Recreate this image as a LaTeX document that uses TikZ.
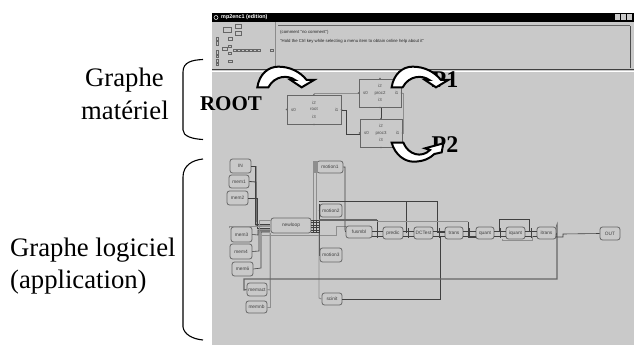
\documentclass[tikz,border=0pt]{standalone}
\usepackage{fontspec}
\setmainfont{Liberation Serif}
\newfontfamily\uifont{Liberation Sans}
\usetikzlibrary{calc}
\definecolor{panel}{HTML}{C9C9C9}
\definecolor{edge}{HTML}{666666}
\definecolor{wire}{HTML}{404040}
\definecolor{soft}{HTML}{8E8E8E}
\tikzset{
 x=1pt,y=-1pt,
 lbl/.style={font=\fontsize{26.7}{30}\selectfont,inner sep=0,anchor=base west},
 big/.style={font=\fontsize{24}{26}\selectfont\bfseries,inner sep=0,anchor=base},
 proc/.style={draw=edge,line width=1pt,fill=panel,inner sep=0},
 task/.style={draw=edge,line width=.8pt,rounded corners=2.5pt,fill=panel,inner sep=0,text=black!75,font=\uifont\fontsize{4.8}{5}\selectfont},
 wr/.style={draw=wire,line width=.6pt},
 wrs/.style={draw=soft,line width=.9pt},
 wrd/.style={draw=black!60,line width=1.2pt},
 port/.style={font=\uifont\fontsize{4.4}{5}\selectfont,text=black!70,inner sep=0},
 bent/.style={draw=black,line width=2pt,fill=white,line join=miter},
 mini/.style={draw=black!60,line width=.4pt},
 brk/.style={draw=black,line width=1.1pt},
 dot/.style={fill=black!60},
}
\newcommand{\tbox}[6]{\node[task,minimum width=#4-#3,minimum height=#6-#5] (#1) at ({(#3+#4)/2},{(#5+#6)/2}) {#2};}
\newcommand{\pbox}[6]{\node[proc,minimum width=#4-#3,minimum height=#6-#5] (#1) at ({(#3+#4)/2},{(#5+#6)/2}) {};
 \node[port] at (#1.center) {#2};
 \node[port] at ($(#1.center)+(0,-7)$) {i2};
 \node[port] at ($(#1.center)+(0,7)$) {i3};
 \node[port] at ($(#1.west)+(7,0)$) {s0};
 \node[port] at ($(#1.east)+(-5,0)$) {i1};
 \foreach \pa in {north,south,west,east}{\fill[dot] (#1.\pa) circle (.9);}
}
\begin{document}
\begin{tikzpicture}
\useasboundingbox (0,0) rectangle (634,345);
\fill[white] (0,0) rectangle (634,345);
% window
\fill[panel] (212,22) rectangle (634,345);
\fill[black] (212,13) rectangle (634,22);
\node[inner sep=0,anchor=west,text=white,font=\uifont\bfseries\fontsize{5.4}{6}\selectfont] (title) at (221,17.5) {mp2enc1 (edition)};
\draw[white,line width=.5pt] (216,17.5) circle (2);
\foreach \bx in {617,623,629}{\fill[panel] (\bx-2.5,14.5) rectangle (\bx+2.5,20.5);}
\draw[black!75,line width=1pt] (212,69.5) -- (634,69.5);
\draw[white,line width=.5pt] (212,71) -- (634,71);
\draw[black!45,line width=1pt] (275.5,22) -- (275.5,70);
\draw[black!60,line width=.5pt] (278,25) -- (630,25);
\draw[black!70,line width=.6pt] (630,26) -- (630,68);
\node[inner sep=0,anchor=west,font=\uifont\fontsize{4.3}{5}\selectfont,text=black!85] (c1) at (280,32) {(comment "no comment")};
\node[inner sep=0,anchor=west,font=\uifont\fontsize{4.3}{5}\selectfont,text=black!85] (c2) at (280,41) {"Hold the Ctrl key while selecting a menu item to obtain online help about it"};
% overview
\foreach \a/\b/\c/\d in {223/231/27/32,235/241/24/28,235/241/31/35,228/232/37/40,216/218/37/40,216/218/41/45,216/218/50/54,216/218/55/57,216/218/59/62,216/218/63/65,222/227/47/50,228/231/45/47,228/231/52/54,228/232/60/62,233/236/49/51,237/240/49/51,241/244/49/51,245/248/49/51,249/252/49/51,253/256/49/51,257/260/49/51,270/273/49/51}
 {\draw[mini] (\a,\c) rectangle (\b,\d);}
% hardware graph
\draw[wrs] (314,93) -- (360,93);
\draw[wr,line width=.8pt] (341,110) -- (346,110) -- (346,134) -- (360,134);
\draw[wr,line width=.8pt] (381,107) -- (381,119);
\pbox{root}{root}{287}{341}{95}{124}
\pbox{proctwo}{proc2}{359}{401}{79}{107}
\pbox{procthree}{proc3}{360}{402}{119}{147}
\draw[wrs] (root.north) -- (314,93);
\draw[wrs] (proctwo.east) -- (403,93) -- (403,133) -- (procthree.east);
% software
\tbox{in}{IN}{230}{251}{159}{173}
\tbox{memone}{mem1}{229}{249}{175}{188}
\tbox{memtwo}{mem2}{227}{248}{191}{205}
\tbox{memthree}{mem3}{231}{252}{227}{242}
\tbox{memfour}{mem4}{230}{252}{244}{259}
\tbox{memsix}{mem6}{232}{253}{262}{276}
\tbox{memact}{memact}{247}{267}{283}{296}
\tbox{memnb}{memnb}{246}{267}{301}{313}
\tbox{newloop}{newloop}{271}{311}{218}{233}
\tbox{motone}{motion1}{317}{343}{161}{173}
\tbox{mottwo}{motion2}{320}{342}{204}{217}
\tbox{motthree}{motion3}{320}{342}{248}{262}
\tbox{fusmbl}{fusmbl}{346}{372}{226}{238}
\tbox{predic}{predic}{383}{403}{227}{239}
\tbox{dct}{DCTest}{414}{433}{227}{239}
\tbox{trans}{trans}{445}{463}{227}{239}
\tbox{quant}{quant}{476}{494}{227}{239}
\tbox{iquant}{iquant}{506}{525}{227}{239}
\tbox{itrans}{itrans}{537}{556}{227}{239}
\tbox{out}{OUT}{600}{620}{227}{240}
\tbox{scinit}{scinit}{322}{342}{293}{305}
% left wires
\draw[wrs] (256,166) -- (256,222);
\draw[wr] (in.east) -- (255,166) -- (255,224) -- (270,224);
\draw[wr,line width=.8pt] (memone.east) -- (256,182) -- (256,226) -- (270,226);
\draw[wr] (memtwo.east) -- (257,198) -- (257,228) -- (270,228);
\draw[wr] (memthree.east) -- (258,235) -- (258,230) -- (270,230);
\draw[wr] (memfour.east) -- (259,251) -- (259,231) -- (270,231);
\draw[wr] (memsix.east) -- (261,268) -- (261,232) -- (270,232);
\draw[wrs] (memact.east) -- (270,290) -- (270,233);
\draw[wrs] (memnb.east) -- (270,307) -- (270,233);
\draw[wrs] (259,233) -- (259,220) -- (271,220);
\draw[wrs] (229,228) -- (229,226) -- (262,226);
\draw[wrs] (262,235) -- (336,235) -- (336,226) -- (346,226);
% motion block
\fill[soft] (313,161) rectangle (318,173);
\draw[wrs] (313,173) -- (313,220);
\draw[wrs] (316,173) -- (316,220);
\foreach \yy in {220,222.5,225,227.5,230,232.5}{\draw[wr] (311,\yy) -- (320,\yy);}
\foreach \xx in {313,316,319}{\draw[wr] (\xx,220) -- (\xx,233);}
\draw[wr,line width=1pt] (319,204) -- (319,250);
\draw[wr,line width=1pt] (319,210) -- (mottwo.west);
\draw[wr,line width=1pt] (319,250) -- (319,255) -- (motthree.west);
\draw[wr] (motone.east) -- (345,167) -- (345,230) -- (fusmbl.west);
\draw[wr] (319,201) -- (437,201) -- (437,232) -- (445,232);
\draw[wr] (406,201) -- (406,233);
\draw[wrd] (319,220) -- (377,220);
\draw[wr] (377,220) -- (377,237);
\draw[wrs] (377,221.5) -- (468,221.5);
\draw[wr] (468,221.5) -- (468,237) -- (476,237);
\draw[wrs] (319,233) -- (319,298) -- (scinit.west);
\draw[wr] (scinit.east) -- (440,299) -- (440,236) -- (445,236);
% pipeline ladders
\foreach \xa/\xb in {372/383,403/414,433/445,463/476,494/506,525/537}{
 \draw[wr,line width=.7pt] (\xa,231) -- (\xb,231);
 \draw[wr,line width=.7pt] (\xa,236) -- (\xb,236);
 \draw[wr] ({(\xa+\xb)/2},228) -- ({(\xa+\xb)/2},238);
}
\draw[wr] (499,231) -- (499,219) -- (529,219) -- (529,231);
\draw[wrs] (502,239) -- (502,240) -- (532,240) -- (532,236);
\draw[wrd] (itrans.north east) -- (557,225) -- (557,279) -- (244,279) -- (244,290) -- (memact.west);
\draw[wr] (itrans.east) -- (556,237) -- (563,237) -- (563,234) -- (out.west);
% labels
\node[lbl] (gm1) at (85,86) {Graphe};
\node[lbl] (gm2) at (81,119) {matériel};
\node[lbl] (gl1) at (10,256) {Graphe logiciel};
\node[lbl] (gl2) at (10,288) {(application)};
\node[font=\fontsize{21}{22}\selectfont\bfseries,inner sep=0,anchor=base] (rootl) at (231,110) {ROOT};
\node[big] (pone) at (445,88) {P1};
\node[big] (ptwo) at (445,152) {P2};
% brackets
\draw[brk] (203,59.5) .. controls (192,60) and (183,62) .. (183,72) -- (183,130) .. controls (183,136) and (192,139) .. (203,139.5);
\draw[brk] (203,159) .. controls (193,160) and (183,165) .. (183,177) -- (183,327) .. controls (184,334) and (192,339) .. (203,340);
% bent arrows
\begin{scope}[shift={(200,0)},scale=1/3]
\draw[bent] (172,262) .. controls (178,222) and (205,200) .. (235,200) .. controls (270,200) and (300,215) .. (320,240) -- (342,240) -- (305,262) -- (272,240) -- (285,240) .. controls (265,225) and (225,225) .. (205,262) -- cycle;
\end{scope}
\begin{scope}[shift={(334.3,0)},scale=1/3]
\draw[bent] (172,262) .. controls (178,222) and (205,200) .. (235,200) .. controls (270,200) and (300,215) .. (320,240) -- (342,240) -- (305,262) -- (272,240) -- (285,240) .. controls (265,225) and (225,225) .. (205,262) -- cycle;
\end{scope}
\begin{scope}[shift={(375,60)},scale=1/3]
\draw[bent] (50,248) .. controls (60,285) and (90,305) .. (115,305) .. controls (145,305) and (165,295) .. (178,282) -- (200,277) -- (205,250) -- (150,265) -- (165,270) .. controls (140,295) and (100,285) .. (85,248) -- cycle;
\end{scope}
\end{tikzpicture}
\end{document}
